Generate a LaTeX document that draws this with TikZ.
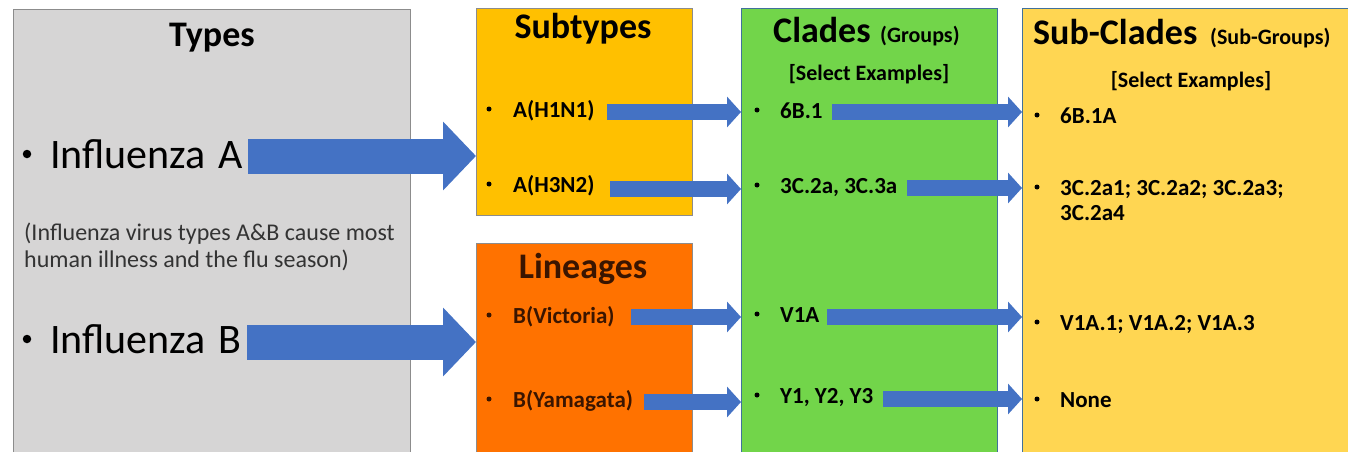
\documentclass[tikz,border=0pt]{standalone}
\usepackage{fontspec}
\setmainfont{Carlito}
\usetikzlibrary{arrows.meta}
\definecolor{typegray}{HTML}{D6D5D5}
\definecolor{subyel}{HTML}{FFC000}
\definecolor{linorange}{HTML}{FF7200}
\definecolor{cladegreen}{HTML}{72D54A}
\definecolor{subcladeyel}{HTML}{FFD652}
\definecolor{arrowblue}{HTML}{4472C4}
\definecolor{graybord}{HTML}{8C8C8C}
\definecolor{bluebord}{HTML}{41719C}
\definecolor{brownt}{HTML}{3A1500}
\tikzset{
  box/.style={draw, line width=1pt, anchor=north west, inner sep=0pt},
  title/.style={font=\fontsize{36}{40}\selectfont\bfseries, anchor=base, inner sep=0pt},
  subtitle/.style={font=\fontsize{22}{26}\selectfont\bfseries, anchor=base west, inner sep=0pt},
  selex/.style={font=\fontsize{22}{26}\selectfont\bfseries, anchor=base, inner sep=0pt},
  item/.style={font=\fontsize{23}{27}\selectfont\bfseries, anchor=base west, inner sep=0pt},
  bul/.style={circle, fill=black, draw=none, inner sep=0pt, minimum size=5pt},
  big/.style={font=\fontsize{42}{48}\selectfont, anchor=base west, inner sep=0pt},
  bigbul/.style={circle, fill=black, draw=none, inner sep=0pt, minimum size=8.5pt},
  note/.style={font=\fontsize{24}{28}\selectfont, anchor=base west, inner sep=0pt, text=black!80},
  bigarrow/.style={draw=arrowblue, line width=35pt, -{Triangle[length=33pt,width=67pt]}},
  smallarrow/.style={draw=arrowblue, line width=16pt, -{Triangle[length=14pt,width=30pt]}},
}
\begin{document}
\begin{tikzpicture}[x=1pt,y=-1pt]
\useasboundingbox (0,0) rectangle (1348,452);
\fill[white] (0,0) rectangle (1348,452);
% boxes
\node[box, draw=graybord, fill=typegray, minimum width=397pt, minimum height=450pt] (types) at (13,9) {};
\node[box, draw=graybord, fill=subyel, minimum width=216pt, minimum height=207pt] (subtypes) at (476,8) {};
\node[box, draw=graybord, fill=linorange, minimum width=216pt, minimum height=215pt] (lineages) at (476,243) {};
\node[box, draw=bluebord, fill=cladegreen, minimum width=256pt, minimum height=450pt] (clades) at (741,8) {};
\node[box, draw=bluebord, fill=subcladeyel, minimum width=330pt, minimum height=450pt] (subclades) at (1022,8) {};
% Types
\node[title] (ttypes) at (212,47) {Types};
\node[bigbul] (bA) at (27,154) {};
\node[big] (infA) at (50,168) {Influenza\hspace{3pt} A};
\node[bigbul] (bB) at (27,339) {};
\node[big] (infB) at (50,353) {Influenza\hspace{3pt} B};
\node[note] (note1) at (24,240) {(Influenza virus types A\&B cause most};
\node[note] (note2) at (24,267) {human illness and the flu season)};
% Subtypes
\node[title] (tsub) at (583,38) {Subtypes};
\node[bul] (b1) at (489,109) {};
\node[item] (h1n1) at (513,117) {A(H1N1)};
\node[bul] (b2) at (489,184) {};
\node[item] (h3n2) at (513,192) {A(H3N2)};
% Lineages
\node[title, text=brownt] (tlin) at (583,278) {Lineages};
\node[bul, fill=brownt] (b3) at (489,315) {};
\node[item, text=brownt] (vic) at (513,323) {B(Victoria)};
\node[bul, fill=brownt] (b4) at (489,399) {};
\node[item, text=brownt] (yam) at (513,407) {B(Yamagata)};
% Clades
\node[title, anchor=base west] (tclades) at (773,42) {Clades};
\node[subtitle] (tgroups) at (880,42) {(Groups)};
\node[selex] (sel1) at (869,80) {[Select Examples]};
\node[bul] (b5) at (757,110) {};
\node[item] (c6b) at (780,118) {6B.1};
\node[bul] (b6) at (757,185) {};
\node[item] (c3c) at (780,193) {3C.2a, 3C.3a};
\node[bul] (b7) at (757,314) {};
\node[item] (cv1a) at (780,322) {V1A};
\node[bul] (b8) at (757,395) {};
\node[item] (cy) at (780,403) {Y1, Y2, Y3};
% Sub-Clades
\node[title, anchor=base west] (tsc) at (1033,45) {Sub-Clades};
\node[subtitle] (tsg) at (1210,45) {(Sub-Groups)};
\node[selex] (sel2) at (1191,87) {[Select Examples]};
\node[bul] (b9) at (1037,115) {};
\node[item] (s6b) at (1060,123) {6B.1A};
\node[bul] (b10) at (1037,187) {};
\node[item] (s3c) at (1060,195) {3C.2a1; 3C.2a2; 3C.2a3;};
\node[item] (s3cb) at (1060,220) {3C.2a4};
\node[bul] (b11) at (1037,322) {};
\node[item] (sv1a) at (1060,330) {V1A.1; V1A.2; V1A.3};
\node[bul] (b12) at (1037,399) {};
\node[item] (snone) at (1060,407) {None};
% big arrows
\coordinate (aA) at (248,156);
\coordinate (aB) at (247,342);
\draw[bigarrow] (aA) -- (aA -| subtypes.west);
\draw[bigarrow] (aB) -- (aB -| lineages.west);
% small arrows
\coordinate (s1) at (607,112);
\coordinate (s2) at (610,189);
\coordinate (s3) at (631,317);
\coordinate (s4) at (644,402);
\draw[smallarrow] (s1) -- (s1 -| clades.west);
\draw[smallarrow] (s2) -- (s2 -| clades.west);
\draw[smallarrow] (s3) -- (s3 -| clades.west);
\draw[smallarrow] (s4) -- (s4 -| clades.west);
\coordinate (s5) at (832,112);
\coordinate (s6) at (907,188);
\coordinate (s7) at (827,317);
\coordinate (s8) at (883,399);
\draw[smallarrow] (s5) -- (s5 -| subclades.west);
\draw[smallarrow] (s6) -- (s6 -| subclades.west);
\draw[smallarrow] (s7) -- (s7 -| subclades.west);
\draw[smallarrow] (s8) -- (s8 -| subclades.west);
\end{tikzpicture}
\end{document}
